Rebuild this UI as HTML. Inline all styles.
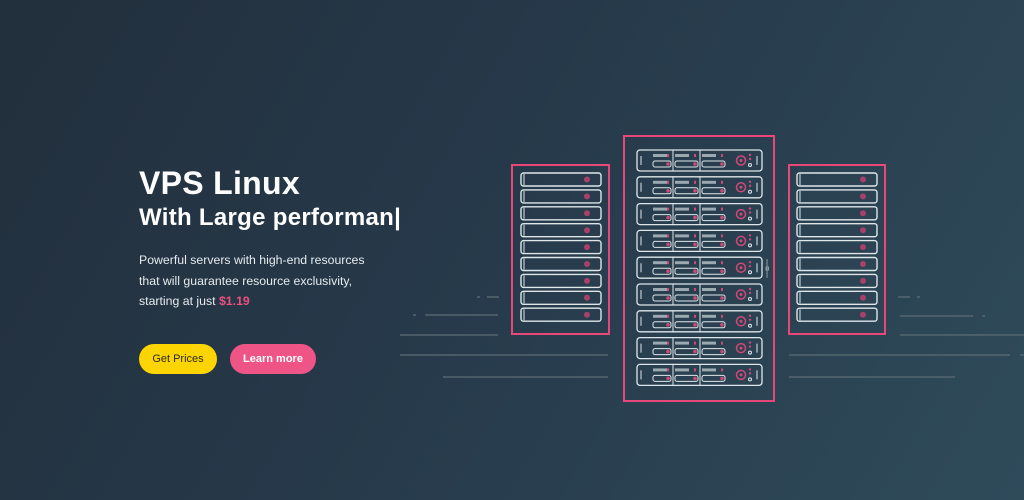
<!DOCTYPE html>
<html><head><meta charset="utf-8"><style>
html,body{margin:0;padding:0;width:1024px;height:500px;overflow:hidden}
body{background:linear-gradient(120deg,#222f3c 0%,#26394a 45%,#2f4b5a 100%);font-family:"Liberation Sans",sans-serif;position:relative}
.t1{position:absolute;left:139px;top:165px;color:#fff;font-weight:bold;font-size:32px;letter-spacing:0.3px}
.t2{position:absolute;left:139px;top:204px;color:#fff;font-weight:bold;font-size:24px;letter-spacing:0.3px}
.p{position:absolute;left:139px;top:250px;color:#e6ecef;font-size:12.3px;line-height:20.5px}
.p b{color:#ee4f7f;font-weight:bold}
.btn{position:absolute;top:344px;height:30px;border-radius:15px;font-size:11px;line-height:30px;text-align:center}
svg{position:absolute;left:0;top:0}
</style></head><body>
<div class="t1">VPS Linux</div>
<div class="t2">With Large performan|</div>
<div class="p">Powerful servers with high-end resources<br>that will guarantee resource exclusivity,<br>starting at just <b>$1.19</b></div>
<div class="btn" style="left:139px;width:78px;background:#fcd400;color:#2a2a2a">Get Prices</div>
<div class="btn" style="left:230px;width:86px;background:#ee5485;color:#fff;font-weight:bold">Learn more</div>
<svg id="s" width="1024" height="500" xmlns="http://www.w3.org/2000/svg">
<g stroke="#5d6d75" stroke-width="1.3">
<line x1="477" y1="297" x2="480" y2="297"/><line x1="487" y1="297" x2="499" y2="297"/>
<line x1="413" y1="315" x2="416" y2="315"/><line x1="425" y1="315" x2="498" y2="315"/>
<line x1="400" y1="335" x2="498" y2="335"/>
<line x1="400" y1="355" x2="608" y2="355"/>
<line x1="443" y1="377" x2="608" y2="377"/>
<line x1="898" y1="297" x2="910" y2="297"/><line x1="917" y1="297" x2="920" y2="297"/>
<line x1="900" y1="316" x2="973" y2="316"/><line x1="982" y1="316" x2="985" y2="316"/>
<line x1="900" y1="335" x2="1024" y2="335"/>
<line x1="789" y1="355" x2="1010" y2="355"/><line x1="1020" y1="355" x2="1024" y2="355"/>
<line x1="789" y1="377" x2="955" y2="377"/>
</g>
<g fill="none" stroke="#e9477a" stroke-width="2">
<rect x="512" y="165" width="97" height="169"/>
<rect x="789" y="165" width="96" height="169"/>
<rect x="624" y="136" width="150" height="265"/>
</g>
<g id="g"></g>
</svg>
<script>
var g=document.getElementById('g'),h='';
function side(x0){for(var i=0;i<9;i++){var y=173+i*16.9;
h+='<rect x="'+x0+'" y="'+y+'" width="80" height="13" rx="2.5" fill="none" stroke="#dfe6ea" stroke-width="1.4"/>';
h+='<line x1="'+(x0+3)+'" y1="'+(y+1)+'" x2="'+(x0+3)+'" y2="'+(y+12)+'" stroke="#dfe6ea" stroke-width="1"/>';
h+='<circle cx="'+(x0+66)+'" cy="'+(y+6.5)+'" r="3" fill="#a8406c"/>';}}
side(521);side(797);
for(var i=0;i<9;i++){var y=150+i*26.8,x=637;
h+='<rect x="'+x+'" y="'+y+'" width="125" height="21" rx="3" fill="none" stroke="#dfe6ea" stroke-width="1.3"/>';
h+='<line x1="'+(x+4)+'" y1="'+(y+6)+'" x2="'+(x+4)+'" y2="'+(y+15)+'" stroke="#dfe6ea"/>';
[[x+14,x+36],[x+36,x+63],[x+63,x+90]].forEach(function(s,k){
 if(k)h+='<line x1="'+s[0]+'" y1="'+y+'" x2="'+s[0]+'" y2="'+(y+21)+'" stroke="#dfe6ea"/>';
 var a=s[0]+2;
 h+='<rect x="'+a+'" y="'+(y+4)+'" width="14" height="3" fill="#b8c3c9" opacity=".8"/>';
 h+='<rect x="'+a+'" y="'+(y+11)+'" width="'+(s[1]-s[0]-4)+'" height="6" rx="2" fill="none" stroke="#dfe6ea"/>';
 h+='<circle cx="'+(s[1]-5)+'" cy="'+(y+14)+'" r="1.8" fill="#d04878"/>';
 h+='<rect x="'+(s[1]-6)+'" y="'+(y+4)+'" width="2" height="3" fill="#d04878"/>';});
h+='<circle cx="'+(x+104)+'" cy="'+(y+10.5)+'" r="4.5" fill="none" stroke="#d04878" stroke-width="1.5"/><circle cx="'+(x+104)+'" cy="'+(y+10.5)+'" r="1.5" fill="#d04878"/>';
h+='<circle cx="'+(x+113)+'" cy="'+(y+5)+'" r="1.2" fill="#d04878"/><circle cx="'+(x+113)+'" cy="'+(y+9)+'" r="1.2" fill="#d04878"/><circle cx="'+(x+113)+'" cy="'+(y+15)+'" r="1.5" fill="none" stroke="#dfe6ea"/>';
h+='<line x1="'+(x+120)+'" y1="'+(y+6)+'" x2="'+(x+120)+'" y2="'+(y+15)+'" stroke="#dfe6ea"/>';}
h+='<line x1="767" y1="259" x2="767" y2="278" stroke="#8c9aa2"/><rect x="766" y="267" width="2.5" height="3" fill="none" stroke="#8c9aa2"/>';
g.innerHTML=h;
</script>
</body></html>
